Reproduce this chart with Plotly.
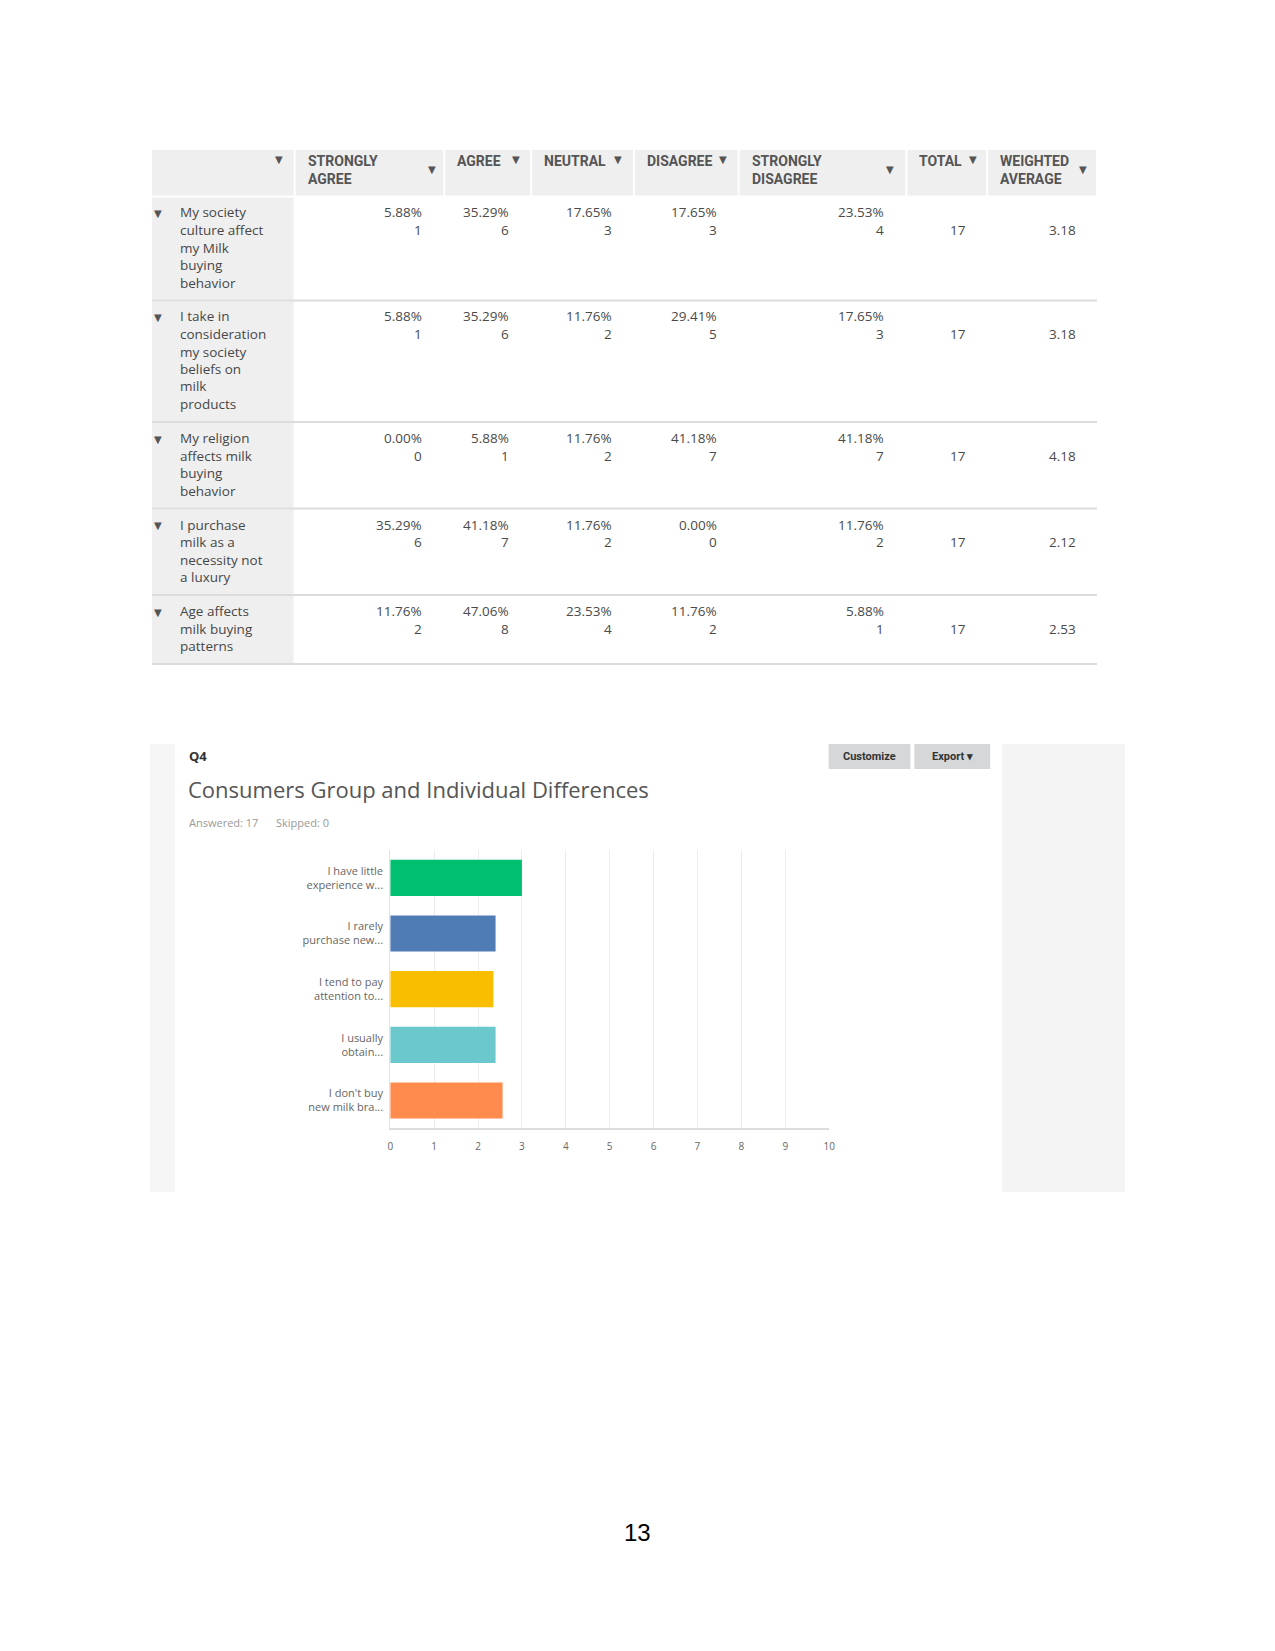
import plotly.graph_objects as go

W, H = 1275, 1651

# ---- table data (Likert results) ----
col_heads = [["STRONGLY", "AGREE"], ["AGREE"], ["NEUTRAL"], ["DISAGREE"],
             ["STRONGLY", "DISAGREE"], ["TOTAL"], ["WEIGHTED", "AVERAGE"]]
row_labels = [
    ["My society", "culture affect", "my Milk", "buying", "behavior"],
    ["I take in", "consideration", "my society", "beliefs on", "milk", "products"],
    ["My religion", "affects milk", "buying", "behavior"],
    ["I purchase", "milk as a", "necessity not", "a luxury"],
    ["Age affects", "milk buying", "patterns"],
]
pct = [
    [5.88, 35.29, 17.65, 17.65, 23.53],
    [5.88, 35.29, 11.76, 29.41, 17.65],
    [0.00, 5.88, 11.76, 41.18, 41.18],
    [35.29, 41.18, 11.76, 0.00, 11.76],
    [11.76, 47.06, 23.53, 11.76, 5.88],
]
counts = [
    [1, 6, 3, 3, 4],
    [1, 6, 2, 5, 3],
    [0, 1, 2, 7, 7],
    [6, 7, 2, 0, 2],
    [2, 8, 4, 2, 1],
]
totals = [17, 17, 17, 17, 17]
weighted_avg = [3.18, 3.18, 4.18, 2.12, 2.53]

# ---- Q4 bar chart data ----
q4_labels = ["I have little<br>experience w...", "I rarely<br>purchase new...",
             "I tend to pay<br>attention to...", "I usually<br>obtain...",
             "I don't buy<br>new milk bra..."]
q4_values = [3.0, 2.4, 2.35, 2.4, 2.56]
q4_colors = ["#00BF6F", "#507CB6", "#F9BE00", "#6BC8CD", "#FF8B4F"]
x_ticks = list(range(0, 11))


def px(x):
    # small horizontal stretch so the table/panel line up with the page
    return (150 + (x - 150) * 1.005) / W


def py(y):
    return 1 - y / H


annotations = []
shapes = []


def label(x, y, s, size=14, color="#4a4a4a", anchor="left", family="Open Sans", weight="normal"):
    annotations.append(dict(x=px(x), y=py(y), xref="paper", yref="paper", text=s,
                            showarrow=False, xanchor=anchor, yanchor="middle",
                            font=dict(size=size, color=color, family=family, weight=weight)))


def rect(x0, y0, x1, y1, fill):
    shapes.append(dict(type="rect", xref="paper", yref="paper", x0=px(x0), x1=px(x1),
                       y0=py(y1), y1=py(y0), fillcolor=fill, layer="below",
                       line=dict(width=0)))


# ---- table ----
edges = [150, 293, 443, 530, 633, 738, 906, 987, 1097]
head_top, head_bot = 150, 195.5
for i in range(len(edges) - 1):
    rect(edges[i] + (1 if i else 0), head_top, edges[i + 1] - 1, head_bot, "#efefef")

head_arrow_x = [277, 431, 515, 617, 722, 890, 973, 1083]
label(head_arrow_x[0], 160, "▼", size=10, color="#555", anchor="center", family="DejaVu Sans")
for j, lines in enumerate(col_heads):
    for k, t in enumerate(lines):
        label(edges[j + 1] + 11, 160.5 + 19 * k, t, size=14, color="#555",
              family="Roboto", weight="bold")
    ay = 169 if len(lines) > 1 else 160
    label(head_arrow_x[j + 1], ay, "▼", size=10, color="#555", anchor="center", family="DejaVu Sans")

line_h = 17.5
top = 196.5
for r, lines in enumerate(row_labels):
    h = line_h * len(lines) + 16.5
    rect(edges[0], top + 1, edges[1] - 1, top + h - 1, "#efefef")
    y0 = top + 16
    label(156, y0 + 1, "▼", size=10, color="#555", anchor="center", family="DejaVu Sans")
    for k, t in enumerate(lines):
        label(176, y0 + line_h * k, t, size=13.5, color="#474747")
    for j in range(5):
        xr = edges[j + 2] - 20
        label(xr, y0, f"{pct[r][j]:.2f}%", size=13.5, anchor="right")
        label(xr, y0 + line_h, str(counts[r][j]), size=13.5, anchor="right")
    label(edges[7] - 19, y0 + line_h, str(totals[r]), size=13.5, anchor="right")
    label(edges[8] - 19, y0 + line_h, f"{weighted_avg[r]:.2f}", size=13.5, anchor="right")
    top += h
    shapes.append(dict(type="line", xref="paper", yref="paper", x0=px(edges[0]), x1=px(edges[-1]),
                       y0=py(top), y1=py(top), line=dict(color="#dcdcdc", width=2)))

# ---- Q4 panel ----
rect(148, 744, 173, 1192, "#f5f5f5")
rect(1002, 744, 1125, 1192, "#f4f4f4")
rect(828, 744, 910, 769, "#d6d7d8")
rect(914, 744, 990, 769, "#d6d7d8")
label(869, 756.5, "Customize", size=11, color="#333", anchor="center", family="Roboto", weight="bold")
label(952, 756.5, "Export ▾", size=11, color="#333", anchor="center", family="Roboto", weight="bold")
label(185, 756, "Q4", size=13, color="#333", family="Open Sans", weight="bold")
label(184, 788.5, "Consumers Group and Individual Differences", size=22, color="#555")
label(185, 822.5, "Answered: 17", size=11, color="#999")
label(272.5, 822.5, "Skipped: 0", size=11, color="#999")

# page number
label(637, 1532.5, "13", size=24, color="#000", anchor="center", family="Liberation Sans")

fig = go.Figure(go.Bar(x=q4_values, y=q4_labels, orientation="h",
                       marker=dict(color=q4_colors, line=dict(width=0))))

fig.update_layout(
    width=W, height=H, margin=dict(l=0, r=0, t=0, b=0), autosize=False,
    paper_bgcolor="white", plot_bgcolor="white", showlegend=False,
    bargap=0.35, annotations=annotations, shapes=shapes,
    font=dict(family="Open Sans", color="#666"),
    xaxis=dict(domain=[390 / W, 832 / W], range=[0, 10], tickvals=x_ticks,
               showgrid=True, gridcolor="#ececec", gridwidth=1, zeroline=False,
               showline=True, linecolor="#dcdcdc", linewidth=2,
               tickfont=dict(size=10, color="#666"), ticks="", ticklabelstandoff=8),
    yaxis=dict(domain=[py(1128.3), py(850)], autorange="reversed", showgrid=False,
               showline=True, linecolor="#e3e3e3", linewidth=1, zeroline=False,
               tickfont=dict(size=11, color="#666"), ticks="", ticklabelstandoff=4),
)

fig.write_html("out.html", config={"displayModeBar": False, "responsive": False},
               post_script="document.body.style.margin='0';document.body.style.overflow='hidden';")
